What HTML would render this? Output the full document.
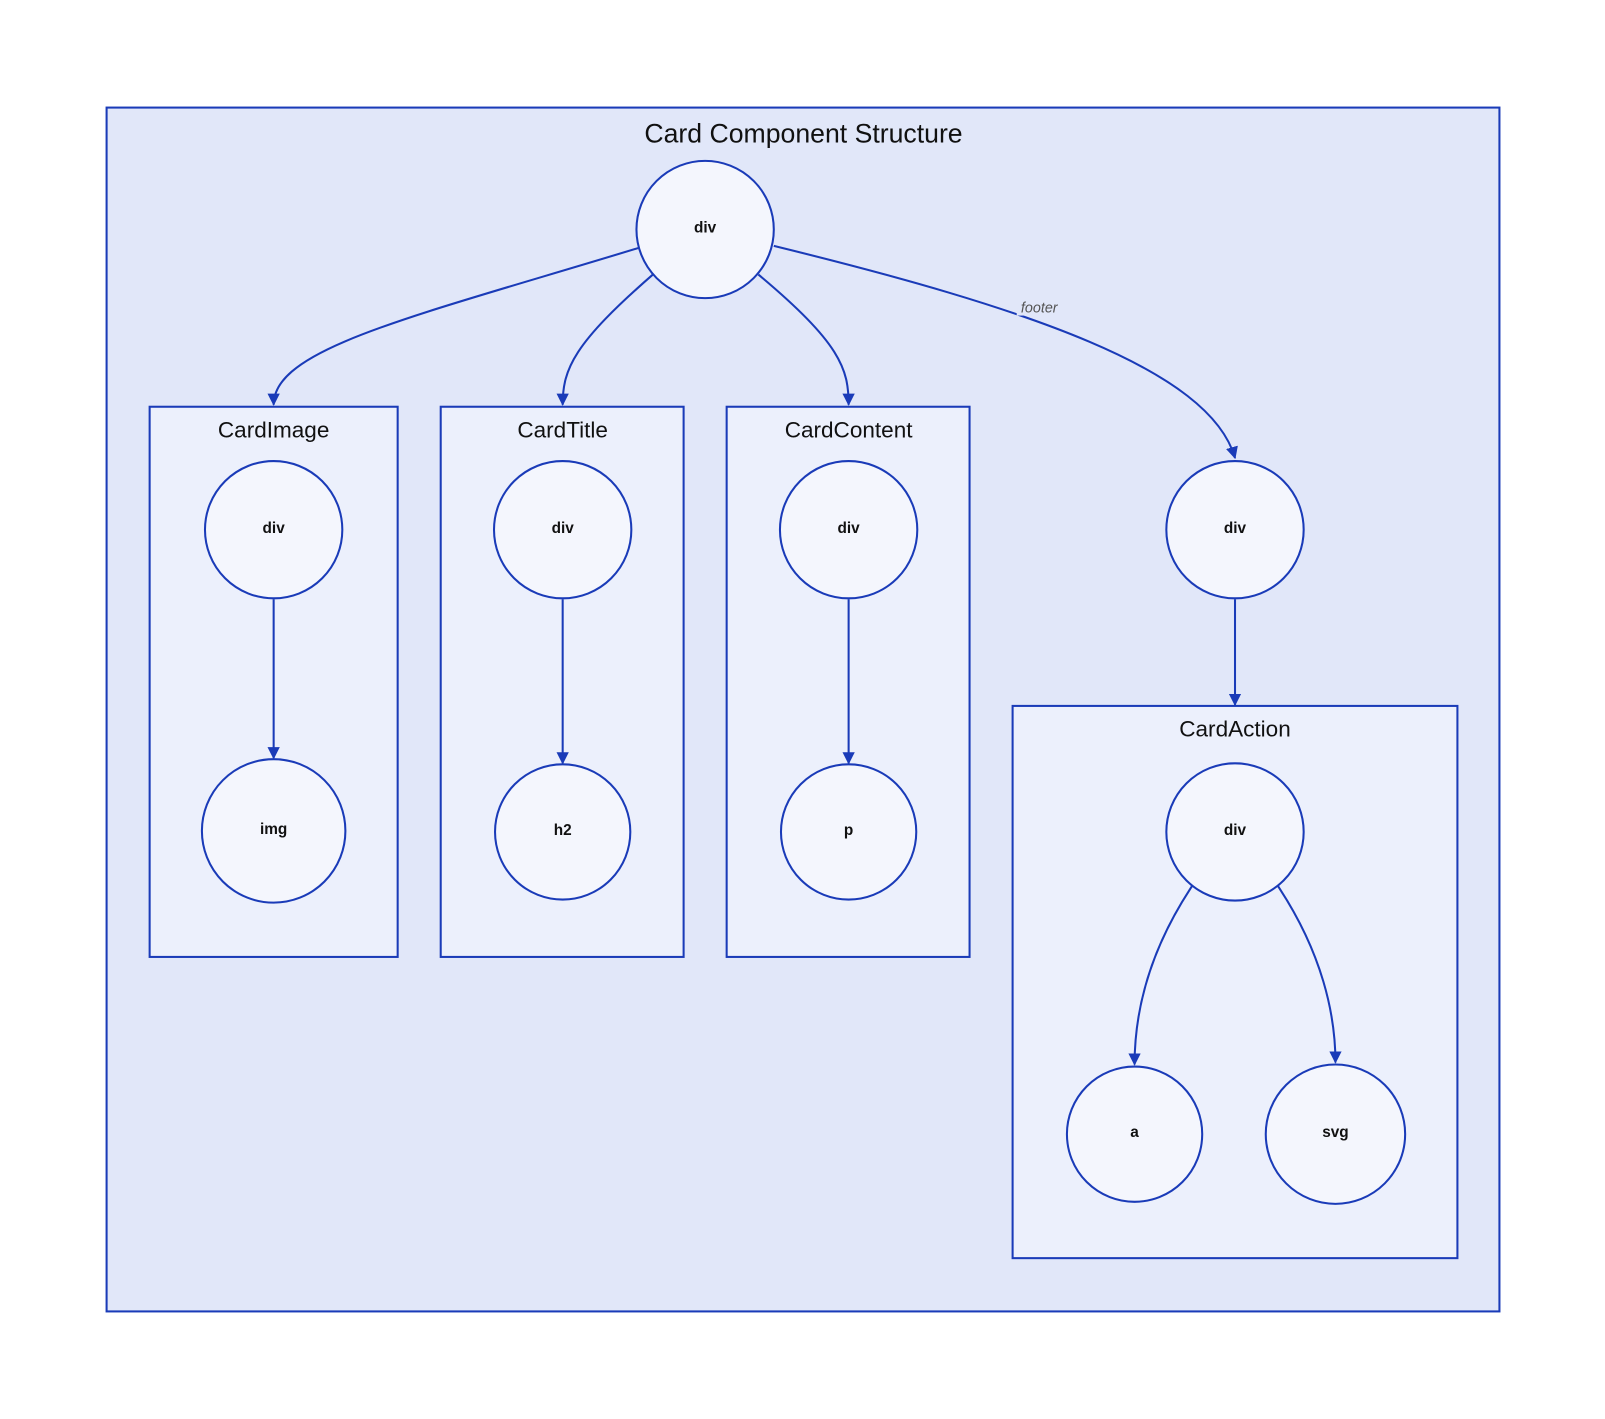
<!DOCTYPE html>
<html><head><meta charset="utf-8"><style>html,body{margin:0;padding:0;background:#fff}svg{display:block}</style></head>
<body>
<svg width="1605" height="1419" viewBox="0 0 1566 1385" preserveAspectRatio="none" xmlns="http://www.w3.org/2000/svg">
<defs><marker id="a" viewBox="0 0 10 10" refX="9" refY="5" markerWidth="6" markerHeight="6" orient="auto"><path d="M0,0L10,5L0,10z" fill="#1a3bb8"/></marker></defs>
<g stroke="#1a3bb8" stroke-width="2">
<rect x="104" y="105" width="1359" height="1175" fill="#e1e7f9"/>
<rect x="146" y="397" width="242" height="537" fill="#ecf0fc"/>
<rect x="430" y="397" width="237" height="537" fill="#ecf0fc"/>
<rect x="709" y="397" width="237" height="537" fill="#ecf0fc"/>
<rect x="988" y="689" width="434" height="539" fill="#ecf0fc"/>
</g>
<g font-family="Liberation Sans, sans-serif" fill="#111" text-anchor="middle">
<text x="784" y="139" font-size="26">Card Component Structure</text>
<text x="267" y="427" font-size="22">CardImage</text>
<text x="549" y="427" font-size="22">CardTitle</text>
<text x="828" y="427" font-size="22">CardContent</text>
<text x="1205" y="719" font-size="22">CardAction</text>
</g>
<g fill="none" stroke="#1a3bb8" stroke-width="2" marker-end="url(#a)">
<path d="M623,242 C400,310 267,340 267,395"/>
<path d="M637,268 C560,335 549,360 549,395"/>
<path d="M740,268 C820,335 828,360 828,395"/>
<path d="M755,240 C1000,300 1180,360 1205,447"/>
<path d="M267,585 L267,740"/>
<path d="M549,585 L549,745"/>
<path d="M828,585 L828,745"/>
<path d="M1205,585 L1205,688"/>
<path d="M1163,865 C1120,930 1107,990 1107,1039"/>
<path d="M1247,865 C1290,930 1303,990 1303,1037"/>
</g>
<rect x="992" y="290" width="44" height="18" fill="#e1e7f9"/>
<text x="1014" y="305" font-family="Liberation Sans, sans-serif" font-size="14" font-style="italic" fill="#555" text-anchor="middle">footer</text>
<g stroke="#1a3bb8" stroke-width="2" fill="#f4f6fd">
<circle cx="688" cy="224" r="67"/>
<circle cx="267" cy="517" r="67"/><circle cx="267" cy="811" r="70"/>
<circle cx="549" cy="517" r="67"/><circle cx="549" cy="812" r="66"/>
<circle cx="828" cy="517" r="67"/><circle cx="828" cy="812" r="66"/>
<circle cx="1205" cy="517" r="67"/><circle cx="1205" cy="812" r="67"/>
<circle cx="1107" cy="1107" r="66"/><circle cx="1303" cy="1107" r="68"/>
</g>
<g font-family="Liberation Sans, sans-serif" font-size="15" font-weight="bold" fill="#111" text-anchor="middle">
<text x="688" y="227">div</text>
<text x="267" y="520">div</text><text x="267" y="814">img</text>
<text x="549" y="520">div</text><text x="549" y="815">h2</text>
<text x="828" y="520">div</text><text x="828" y="815">p</text>
<text x="1205" y="520">div</text><text x="1205" y="815">div</text>
<text x="1107" y="1110">a</text><text x="1303" y="1110">svg</text>
</g>
</svg>
</body></html>
